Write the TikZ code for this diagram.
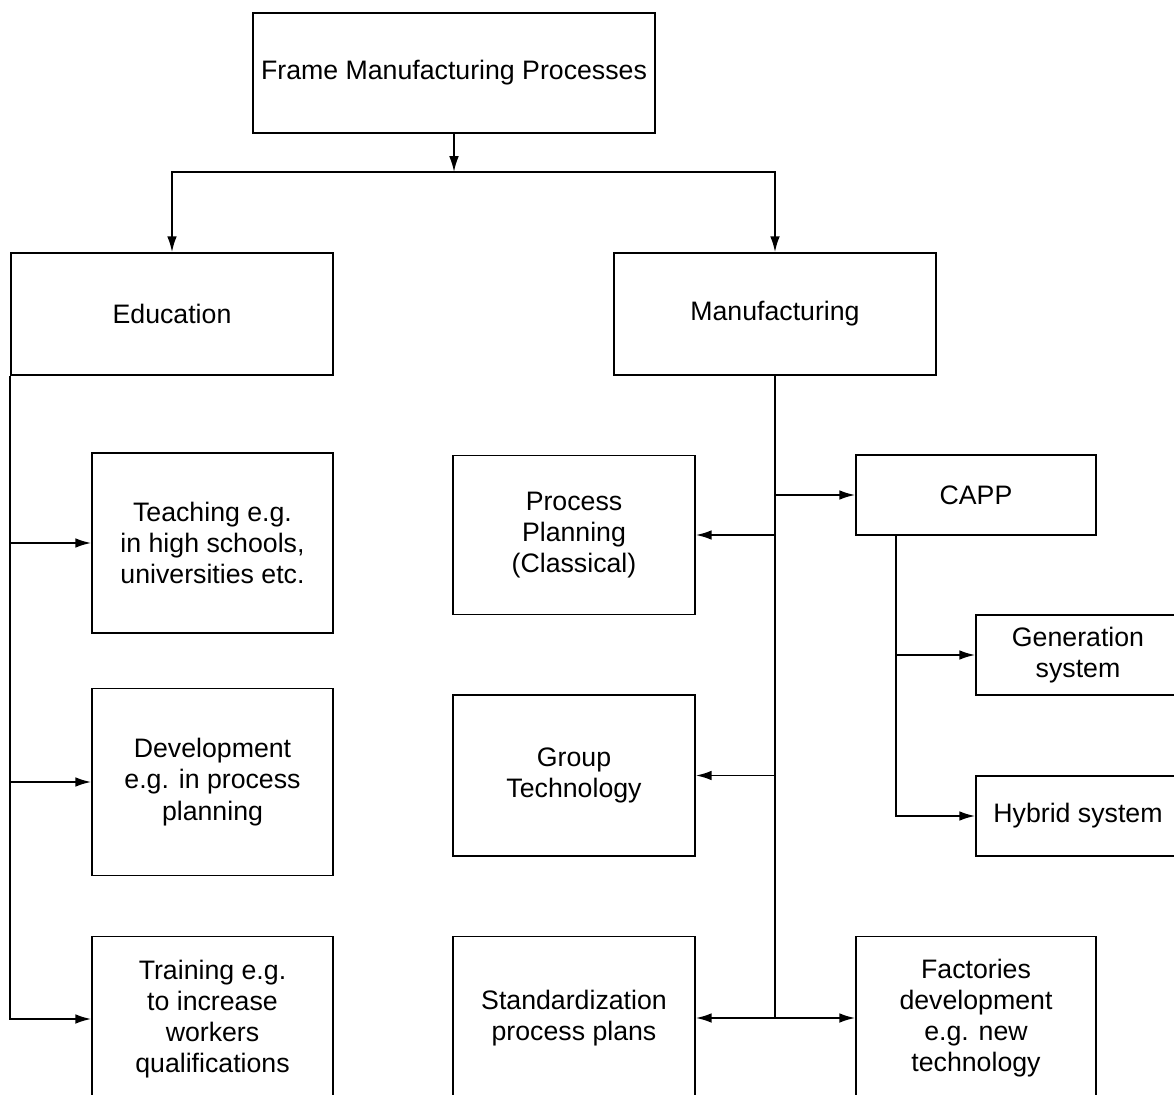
\documentclass[tikz,border=0pt]{standalone}
\usepackage{fontspec}
\setmainfont{Liberation Sans}
\usetikzlibrary{arrows.meta}
\tikzstyle{chartstyle}=[
    x=0.02cm, y=-0.02cm,
    >={Latex[length=9pt,width=5.5pt]},
    line width=1pt,
    font=\fontsize{15.2}{17.8}\selectfont,
]
\tikzstyle{box}=[draw, align=center, inner sep=2pt]

\begin{document}
\begin{tikzpicture}[chartstyle]
        \useasboundingbox (0,0) rectangle (1174,1095);
        \node (top) at (454, 73) [box, minimum width=8.04cm, minimum height=2.4cm] {Frame Manufacturing Processes};
        \node (edu) at (172, 314) [box, minimum width=6.44cm, minimum height=2.44cm] {Education};
        \node (manu) at (775, 314) [box, minimum width=6.44cm, minimum height=2.44cm] {Manufacturing};
        \node (teach) at (212.5, 543) [box, minimum width=4.82cm, minimum height=3.6cm] {Teaching e.g.\\in high schools,\\universities etc.};
        \node (dev) at (212.5, 782) [box, minimum width=4.82cm, minimum height=3.74cm] {Development\\e.g. in process\\planning};
        \node (train) at (212.5, 1019) [box, minimum width=4.82cm, minimum height=3.3cm] {Training e.g.\\to increase\\workers\\qualifications};
        \node (pp) at (574, 535) [box, minimum width=4.84cm, minimum height=3.18cm] {Process\\Planning\\(Classical)};
        \node (gt) at (574, 775.5) [box, minimum width=4.84cm, minimum height=3.22cm] {Group\\Technology};
        \node (std) at (574, 1018) [box, minimum width=4.84cm, minimum height=3.26cm] {Standardization\\process plans};
        \node (capp) at (976, 495) [box, minimum width=4.8cm, minimum height=1.6cm] {CAPP};
        \node (gen) at (1078, 655) [box, minimum width=4.08cm, minimum height=1.6cm] {Generation\\system};
        \node (hyb) at (1078, 816) [box, minimum width=4.08cm, minimum height=1.6cm] {Hybrid system};
        \node (fac) at (976, 1018) [box, minimum width=4.8cm, minimum height=3.26cm] {Factories\\development\\e.g. new\\technology};
        \coordinate (split) at (454, 172);
        \coordinate (cappfoot) at (896, 535);
        \draw[->] (top) -- (split);
        \draw[->] (split) -| (edu);
        \draw[->] (split) -| (manu);
        \draw[->] (edu.south west) |- (teach.west);
        \draw[->] (edu.south west) |- (dev.west);
        \draw[->] (edu.south west) |- (train.west);
        \draw[->] (manu.south) |- (capp.west);
        \draw[->] (manu.south) |- (pp.east);
        \draw[->] (manu.south) |- (gt.east);
        \draw[->] (manu.south) |- (std.east);
        \draw[->] (manu.south) |- (fac.west);
        \draw[->] (cappfoot) |- (gen.west);
        \draw[->] (cappfoot) |- (hyb.west);
    \end{tikzpicture}
\end{document}
